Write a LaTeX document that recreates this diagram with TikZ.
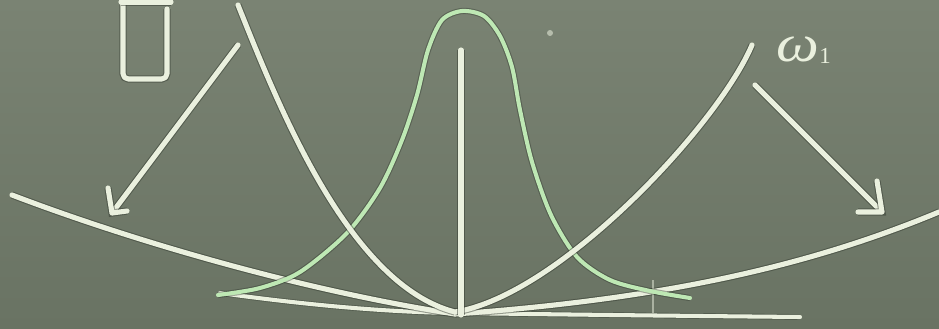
\documentclass[tikz,border=0pt]{standalone}
\usepackage{fontspec}
\newfontfamily\greekfont{Liberation Serif}
\definecolor{chalk}{HTML}{EAF0DE}
\definecolor{gchalk}{HTML}{BEE8B4}
\definecolor{halo}{HTML}{2C3329}
\definecolor{boardtop}{HTML}{7A8373}
\definecolor{boardbot}{HTML}{697363}
\tikzset{
  chalkline/.style={draw=chalk, line width=2.9pt, line cap=round, line join=round,
    preaction={draw=halo, line width=4.1pt, draw opacity=0.45}},
  thinchalk/.style={draw=chalk, line width=2.3pt, line cap=round, line join=round,
    preaction={draw=halo, line width=3.3pt, draw opacity=0.35}},
  greenline/.style={draw=gchalk, line width=2.3pt, line cap=round, line join=round,
    preaction={draw=halo, line width=3.5pt, draw opacity=0.4}},
  chalktext/.style={text=chalk, inner sep=0pt}
}
\begin{document}
\begin{tikzpicture}[x=0.02cm,y=-0.02cm]
\shade[top color=boardtop, bottom color=boardbot] (0,0) rectangle (939,328);
\useasboundingbox (0,0) rectangle (939,328);

% baseline and long bottom curves
\draw[thinchalk] (220,293) .. controls (300,304) and (380,312) .. (455,313) .. controls (600,315) and (700,316) .. (800,317);
\draw[chalkline] (12,195) .. controls (130,240) and (300,290) .. (455,314);
\draw[chalkline] (455,314) .. controls (650,300) and (800,270) .. (939,212);
\draw[chalk, line width=1.2pt, opacity=0.5] (653,280) -- (653,313);

% green bell curve
\draw[greenline] plot[smooth, tension=0.5] coordinates {(218,295) (260,288) (300,272) (347,233) (380,188) (402,140) (417,95) (428,50) (442,20) (462,11) (484,16) (500,36) (512,67) (520,110) (532,162) (551,215) (577,257) (610,280) (650,291) (690,298)};

% white cusp curve
\draw[chalkline] (238,5) .. controls (280,110) and (350,285) .. (455,312);
\draw[chalkline] (455,312) .. controls (560,295) and (718,125) .. (752,45);

% central vertical line
\draw[chalkline] (461,50) -- (461,315);

% arrows
\draw[chalkline] (238,45) -- (112,213);
\draw[chalkline] (108,188) -- (112,213) -- (127,211);
\draw[chalkline] (755,85) -- (882,212);
\draw[chalkline] (877,181) -- (882,212) -- (858,212);

% box at top left
\draw[chalkline, rounded corners=3pt] (123,0) -- (123,79) -- (167,79) -- (167,9);
\draw[chalkline] (121,2) -- (171,2);

% chalk dot
\fill[chalk, opacity=0.55] (550,33) circle (3);

% label
\node[chalktext, anchor=base west, font=\greekfont\itshape\fontsize{30}{30}\selectfont, xscale=1.15] (w) at (776,61) {ω};
\node[chalktext, anchor=base west, font=\greekfont\fontsize{13}{13}\selectfont] (one) at (819,63) {1};
\end{tikzpicture}
\end{document}
